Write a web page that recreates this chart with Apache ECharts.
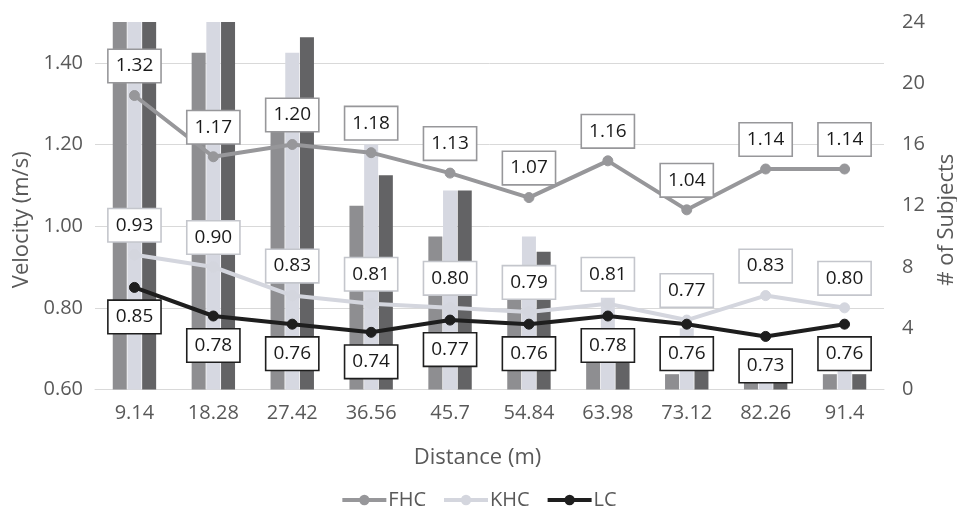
<!DOCTYPE html>
<html>
<head>
<meta charset="utf-8">
<script src="https://cdn.jsdelivr.net/npm/echarts@6/dist/echarts.min.js"></script>
<style>
  html, body { margin: 0; padding: 0; background: #fff; }
  #chart { width: 957px; height: 511px; }
</style>
</head>
<body>
<div id="chart"></div>
<script>
// Distance markers along the walkway (m)
const distances = ['9.14', '18.28', '27.42', '36.56', '45.7', '54.84', '63.98', '73.12', '82.26', '91.4'];

// Mean walking velocity (m/s) per group
const velocityFHC = [1.32, 1.17, 1.20, 1.18, 1.13, 1.07, 1.16, 1.04, 1.14, 1.14];
const velocityKHC = [0.93, 0.90, 0.83, 0.81, 0.80, 0.79, 0.81, 0.77, 0.83, 0.80];
const velocityLC  = [0.85, 0.78, 0.76, 0.74, 0.77, 0.76, 0.78, 0.76, 0.73, 0.76];

// Number of subjects reaching each distance, per group
const subjectsFHC = [24, 22, 18, 12, 10, 7, 3, 1, 1, 1];
const subjectsKHC = [24, 24, 22, 16, 13, 10, 6, 4, 1, 2];
const subjectsLC  = [24, 24, 23, 14, 13, 9, 3, 2, 1, 1];

const groups = ['FHC', 'KHC', 'LC'];

const FONT = '"Open Sans", "Liberation Sans", sans-serif';
const AXIS_TEXT = '#595959';

const colors = {
  FHC: { bar: '#8e8e91', line: '#97979a', border: '#97979a' },
  KHC: { bar: '#d6d8e1', line: '#d4d6de', border: '#c4c6cc' },
  LC:  { bar: '#636365', line: '#1e1e1e', border: '#1e1e1e' }
};

function barSeries(name, data, color) {
  return {
    name: name,
    type: 'bar',
    yAxisIndex: 1,
    data: data,
    barWidth: 14,
    barGap: '5%',
    itemStyle: { color: color },
    z: 1,
    silent: true
  };
}

function lineSeries(name, data, c, pos) {
  return {
    name: name,
    type: 'line',
    yAxisIndex: 0,
    data: data,
    symbol: 'circle',
    symbolSize: 10,
    lineStyle: { color: c.line, width: 4 },
    itemStyle: { color: c.line, borderColor: c.line },
    z: 3,
    label: {
      show: true,
      position: pos,
      distance: 8,
      formatter: p => p.value.toFixed(2),
      fontFamily: FONT,
      fontSize: 19,
      lineHeight: 22,
      color: '#1a1a1a',
      backgroundColor: '#ffffff',
      borderColor: c.border,
      borderWidth: 1.6,
      padding: [5, 7, 5, 7]
    }
  };
}

const chart = echarts.init(document.getElementById('chart'), null, { renderer: 'canvas' });

chart.setOption({
  animation: false,
  backgroundColor: '#ffffff',
  textStyle: { fontFamily: FONT },
  grid: { left: 95, right: 73, top: 22, bottom: 121.5, containLabel: false, outerBoundsMode: 'none' },
  legend: {
    data: groups.map(g => ({
      name: g,
      lineStyle: { width: 4, color: colors[g].line },
      itemStyle: { color: colors[g].line }
    })),
    top: 485,
    left: 'center',
    itemWidth: 44,
    itemHeight: 13,
    itemGap: 16,
    lineStyle: { width: 4 },
    textStyle: { fontFamily: FONT, fontSize: 20, color: AXIS_TEXT, padding: [0, 0, 0, -3] }
  },
  xAxis: {
    type: 'category',
    data: distances,
    name: 'Distance (m)',
    nameLocation: 'middle',
    nameGap: 57,
    nameTextStyle: { fontFamily: FONT, fontSize: 22, color: AXIS_TEXT, padding: [0, 24, 0, 0] },
    axisLine: { lineStyle: { color: '#d9d9d9', width: 1 } },
    axisTick: { show: false },
    axisLabel: { fontFamily: FONT, fontSize: 20, color: AXIS_TEXT, margin: 14 }
  },
  yAxis: [
    {
      type: 'value',
      min: 0.6,
      max: 1.5,
      interval: 0.2,
      name: 'Velocity (m/s)',
      nameLocation: 'middle',
      nameRotate: 90,
      nameGap: 62,
      nameTextStyle: { fontFamily: FONT, fontSize: 22, color: AXIS_TEXT, padding: [0, 28, 0, 0] },
      axisLine: { show: false },
      axisTick: { show: false },
      axisLabel: {
        fontFamily: FONT, fontSize: 20, color: AXIS_TEXT, margin: 12,
        showMaxLabel: false,
        formatter: v => v.toFixed(2)
      },
      splitLine: { show: true, showMaxLine: false, lineStyle: { color: '#d9d9d9', width: 1 } }
    },
    {
      type: 'value',
      min: 0,
      max: 24,
      interval: 4,
      name: '# of Subjects',
      nameLocation: 'middle',
      nameRotate: 90,
      nameGap: 52,
      nameTextStyle: { fontFamily: FONT, fontSize: 22, color: AXIS_TEXT, padding: [0, 28, 0, 0] },
      axisLine: { show: false },
      axisTick: { show: false },
      axisLabel: { fontFamily: FONT, fontSize: 20, color: AXIS_TEXT, margin: 18 },
      splitLine: { show: false }
    }
  ],
  series: [
    barSeries('FHC subjects', subjectsFHC, colors.FHC.bar),
    barSeries('KHC subjects', subjectsKHC, colors.KHC.bar),
    barSeries('LC subjects', subjectsLC, colors.LC.bar),
    lineSeries('FHC', velocityFHC, colors.FHC, 'top'),
    lineSeries('KHC', velocityKHC, colors.KHC, 'top'),
    lineSeries('LC', velocityLC, colors.LC, 'bottom')
  ]
});
</script>
</body>
</html>
